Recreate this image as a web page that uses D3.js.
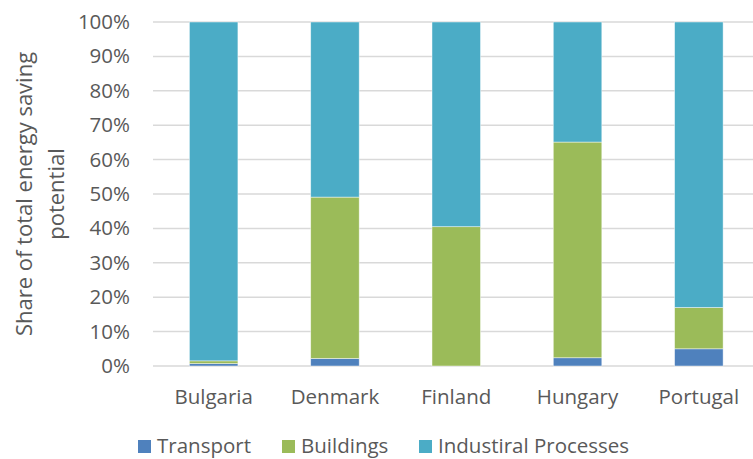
<!DOCTYPE html>
<html>
<head>
<meta charset="utf-8">
<script src="https://cdn.jsdelivr.net/npm/d3@7"></script>
<style>
    body { margin: 0; background: #fff; }
    svg text { font-family: "Open Sans", sans-serif; fill: #595959; }
</style>
</head>
<body>
<script>
const countries = ["Bulgaria", "Denmark", "Finland", "Hungary", "Portugal"];
const seriesNames = ["Transport", "Buildings", "Industiral Processes"];
const transport = [0.7, 2.2, 0.0, 2.4, 5.0];
const buildings = [0.8, 46.9, 40.5, 62.7, 12.0];
const industrial = [98.5, 50.9, 59.5, 34.9, 83.0];
const yTicks = [0, 10, 20, 30, 40, 50, 60, 70, 80, 90, 100];
const colors = ["#4F81BD", "#9BBB59", "#4BACC6"];

const width = 753, height = 459;

const svg = d3.select("body").append("svg")
    .attr("width", width)
    .attr("height", height);

const rows = countries.map((c, i) => ({
    country: c,
    Transport: transport[i],
    Buildings: buildings[i],
    "Industiral Processes": industrial[i]
}));

const x = d3.scaleBand()
    .domain(countries)
    .range([153, 759.5])
    .paddingInner(0.6)
    .paddingOuter(0.3);

const y = d3.scaleLinear()
    .domain([0, 100])
    .range([366, 22]);

// gridlines
svg.append("g")
    .selectAll("line")
    .data(yTicks)
    .join("line")
    .attr("x1", 153)
    .attr("x2", width)
    .attr("y1", d => y(d))
    .attr("y2", d => y(d))
    .attr("stroke", "#d9d9d9")
    .attr("stroke-width", 1.5);

// y tick labels
svg.append("g")
    .selectAll("text")
    .data(yTicks)
    .join("text")
    .attr("x", 130)
    .attr("y", d => y(d) + 7)
    .attr("text-anchor", "end")
    .style("font-size", "20.5px")
    .text(d => d + "%");

// stacked bars
const stacked = d3.stack().keys(seriesNames)(rows);

svg.append("g")
    .selectAll("g")
    .data(stacked)
    .join("g")
    .attr("fill", (d, i) => colors[i])
    .selectAll("rect")
    .data(d => d)
    .join("rect")
    .attr("x", d => x(d.data.country))
    .attr("width", x.bandwidth())
    .attr("y", d => y(d[1]))
    .attr("height", d => y(d[0]) - y(d[1]))
    .attr("stroke", "#fff")
    .attr("stroke-opacity", 0.6)
    .attr("stroke-width", 0.75);

// category labels
svg.append("g")
    .selectAll("text")
    .data(countries)
    .join("text")
    .attr("x", d => x(d) + x.bandwidth() / 2)
    .attr("y", 404)
    .attr("text-anchor", "middle")
    .style("font-size", "20.5px")
    .text(d => d);

// y axis title
const title = svg.append("text")
    .attr("transform", "translate(24," + y(50) + ") rotate(-90)")
    .attr("text-anchor", "middle")
    .style("font-size", "22px");

title.append("tspan")
    .attr("x", 0)
    .attr("dy", "0.35em")
    .text("Share of total energy saving");

title.append("tspan")
    .attr("x", 0)
    .attr("dy", 32)
    .text("potential");

// legend
const legendX = [138, 282, 419];
const legend = svg.append("g")
    .selectAll("g")
    .data(seriesNames)
    .join("g")
    .attr("transform", (d, i) => "translate(" + legendX[i] + ",440)");

legend.append("rect")
    .attr("width", 13)
    .attr("height", 13)
    .attr("fill", (d, i) => colors[i]);

legend.append("text")
    .attr("x", 19)
    .attr("y", 13)
    .style("font-size", "20.5px")
    .text(d => d);
</script>
</body>
</html>
